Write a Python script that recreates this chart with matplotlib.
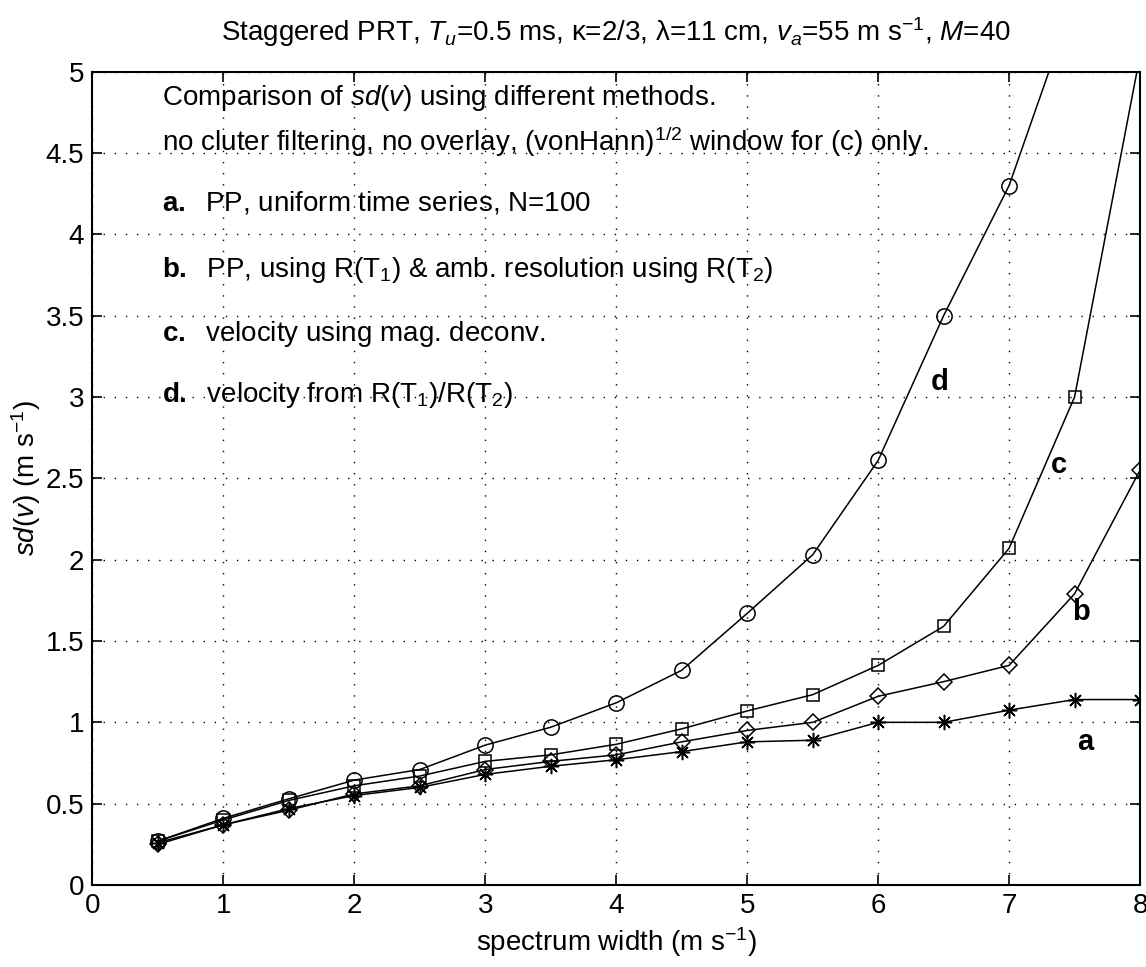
import matplotlib
matplotlib.use("Agg")
import matplotlib.pyplot as plt
from matplotlib.ticker import FormatStrFormatter, MultipleLocator

plt.rcParams['font.family'] = ['Liberation Sans', 'DejaVu Sans']
plt.rcParams['mathtext.fontset'] = 'custom'
plt.rcParams['mathtext.rm'] = 'Liberation Sans'
plt.rcParams['mathtext.it'] = 'Liberation Sans:italic'
plt.rcParams['mathtext.bf'] = 'Liberation Sans:bold'

# spectrum width (m/s)
width = [0.5, 1.0, 1.5, 2.0, 2.5, 3.0, 3.5, 4.0, 4.5, 5.0, 5.5, 6.0, 6.5, 7.0, 7.5, 8.0]

# a. PP, uniform time series
sd_a = [0.26, 0.37, 0.47, 0.55, 0.60, 0.68, 0.73, 0.77, 0.82, 0.88, 0.89, 1.00, 1.00, 1.075, 1.14, 1.14]
# b. PP using R(T1) & amb. resolution using R(T2)
sd_b = [0.25, 0.37, 0.46, 0.56, 0.61, 0.71, 0.76, 0.80, 0.88, 0.95, 1.00, 1.16, 1.25, 1.35, 1.79, 2.55]
# c. magnitude deconvolution
sd_c = [0.27, 0.40, 0.52, 0.61, 0.67, 0.76, 0.80, 0.865, 0.96, 1.07, 1.17, 1.35, 1.59, 2.07, 3.00, 5.10]
# d. R(T1)/R(T2)
width_d = [0.5, 1.0, 1.5, 2.0, 2.5, 3.0, 3.5, 4.0, 4.5, 5.0, 5.5, 6.0, 6.5, 7.0, 7.5]
sd_d = [0.27, 0.41, 0.53, 0.645, 0.71, 0.86, 0.97, 1.12, 1.32, 1.67, 2.03, 2.61, 3.50, 4.30, 5.45]

curve_labels = ['a', 'b', 'c', 'd']
curve_label_pos = [(7.58, 0.88), (7.55, 1.68), (7.38, 2.58), (6.47, 3.09)]

fig = plt.figure(figsize=(11.46, 9.67), dpi=100)
ax = fig.add_axes([0.0807, 0.0848, 0.9948 - 0.0807, 0.9259 - 0.0848])

lw = 1.1
ax.plot(width, sd_a, color='black', lw=lw, marker=(8, 2, 0), ms=11, mew=1.1)
ax.plot(width, sd_b, color='black', lw=lw, marker='D', ms=8, mfc='none', mew=1.1)
ax.plot(width, sd_c, color='black', lw=lw, marker='s', ms=9, mfc='none', mew=1.1)
ax.plot(width_d, sd_d, color='black', lw=lw, marker='o', ms=11, mfc='none', mew=1.1)

ax.set_xlim(0, 8)
ax.set_ylim(0, 5)
ax.xaxis.set_major_locator(MultipleLocator(1))
ax.yaxis.set_major_locator(MultipleLocator(0.5))
ax.yaxis.set_major_formatter(FormatStrFormatter('%g'))
ax.xaxis.set_major_formatter(FormatStrFormatter('%g'))
ax.tick_params(direction='in', top=True, right=True, length=7, width=1.2,
               labelsize=20, pad=6)
for s in ax.spines.values():
    s.set_linewidth(1.5)
ax.grid(True, color='black', linestyle=(0, (1, 7)), linewidth=1.0)

fs = 20
ax.text(0.53, 4.84, r"Comparison of $\mathit{sd(v)}$ using different methods.", fontsize=fs, va='center')
ax.text(0.53, 4.57, r"no cluter filtering, no overlay, (vonHann)$^{1/2}$ window for (c) only.", fontsize=fs, va='center')
ax.text(0.53, 4.19, r"$\mathbf{a.}$  PP, uniform time series, N=100", fontsize=fs, va='center')
ax.text(0.53, 3.78, r"$\mathbf{b.}$  PP, using R(T$_1$) & amb. resolution using R(T$_2$)", fontsize=fs, va='center')
ax.text(0.53, 3.39, r"$\mathbf{c.}$  velocity using mag. deconv.", fontsize=fs, va='center')
ax.text(0.53, 3.01, r"$\mathbf{d.}$  velocity from R(T$_1$)/R(T$_2$)", fontsize=fs, va='center')

for lab, (lx, ly) in zip(curve_labels, curve_label_pos):
    ax.text(lx, ly, lab, fontsize=21, fontweight='bold', ha='center', va='center')

ax.set_xlabel(r"spectrum width (m s$^{-1}$)", fontsize=20, labelpad=4)
ax.set_ylabel(r"$\mathit{sd(v)}$ (m s$^{-1}$)", fontsize=20, labelpad=2)
ax.set_title(r"Staggered PRT, $T_u$=0.5 ms, κ=2/3, λ=11 cm, $v_a$=55 m s$^{-1}$, $M$=40",
             fontsize=20, pad=22)

fig.savefig("out.png", dpi=100)
